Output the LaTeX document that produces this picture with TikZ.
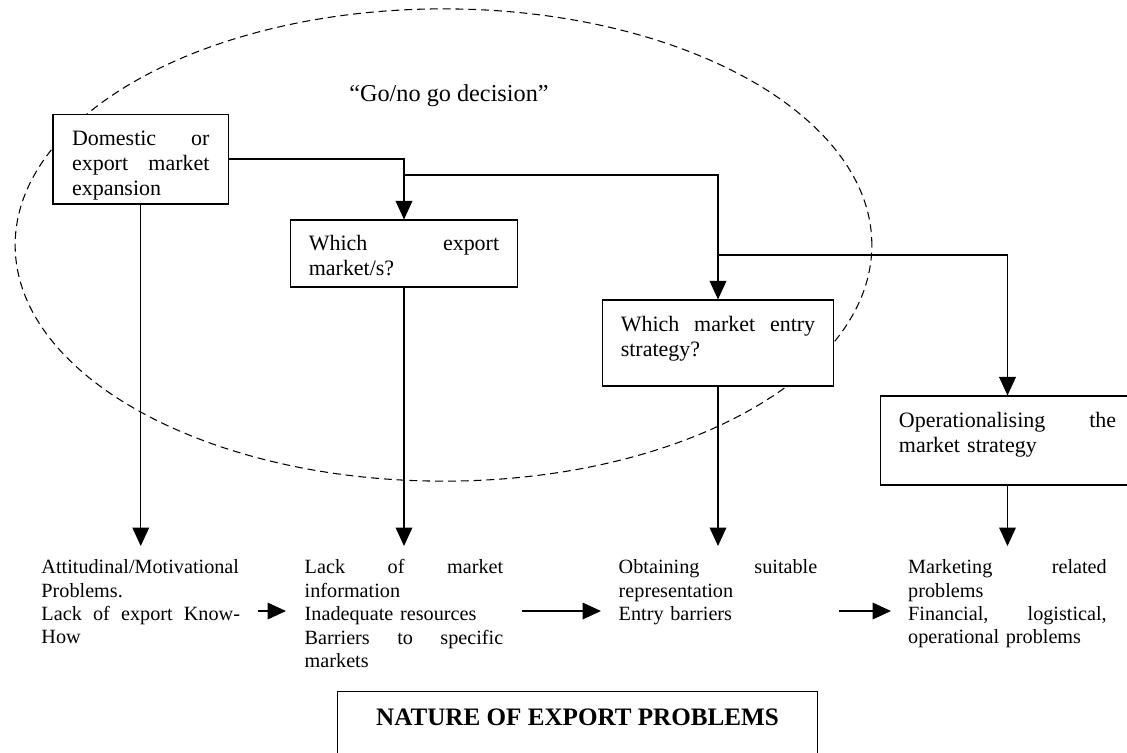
\documentclass[tikz,border=0pt]{standalone}
\usepackage{fontspec}
\setmainfont{Liberation Serif}
\usetikzlibrary{arrows.meta}

\tikzset{
  stage/.style={draw, line width=0.8pt, fill=white, align=left, inner ysep=0pt,
    font=\fontsize{12.5}{14.2}\selectfont},
  problem/.style={anchor=north, align=left, inner xsep=0pt, inner ysep=7.6pt,
    text width=113pt, font=\fontsize{11.5}{13.3}\selectfont},
  flow/.style={line width=0.7pt, -{Triangle[length=10.5pt, width=9.5pt]}},
}

\begin{document}
\begin{tikzpicture}[x=0.02cm, y=-0.02cm]
        \useasboundingbox (0,0) rectangle (1127,752);

        % Decision area
        \draw[dashed, dash pattern=on 4.5pt off 2.8pt, line width=0.6pt]
            (443.5,245) ellipse [x radius=243.8pt, y radius=134.4pt];
        \node[font=\fontsize{13.8}{16}\selectfont] (gonogo) at (449,96) {“Go/no go decision”};

        % Stages
        \node[stage, text width=78.2pt, inner xsep=10.9pt, minimum width=100.1pt, minimum height=51pt, text depth=24.1pt]
            (expand) at (140.75,159) {Domestic\hfill or\\ export\hfill market\\ expansion};
        \node[stage, text width=108.3pt, inner xsep=10.5pt, minimum width=129.3pt, minimum height=38pt, text depth=12.2pt]
            (market) at (404,253.5) {Which\hfill export\\ market/s?};
        \node[stage, text width=110.6pt, inner xsep=10.5pt, minimum width=131.5pt, minimum height=48.8pt, text depth=21.9pt]
            (entry) at (718,343) {Which\hfill market\hfill entry\\ strategy?};
        \node[stage, text width=123.6pt, inner xsep=10.5pt, minimum width=144.6pt, minimum height=50.5pt, text depth=23.6pt]
            (operate) at (1007.5,440.5) {Operationalising\hfill the\\ market strategy};

        % Problems
        \node[problem] (attitude) at (140.75,546) {Attitudinal/Motivational\\ Problems.\\ Lack\hfill of\hfill export\hfill Know-\\ How};
        \node[problem] (info) at (404,546) {Lack\hfill of\hfill market\\ information\\ Inadequate resources\\ Barriers\hfill to\hfill specific\\ markets};
        \node[problem] (represent) at (718,546) {Obtaining\hfill suitable\\ representation\\ Entry barriers};
        \node[problem] (logistic) at (1007.5,546) {Marketing\hfill related\\ problems\\ Financial,\hfill logistical,\\ operational problems};

        \node[draw, line width=0.8pt, anchor=north, minimum width=273.3pt, text height=9.5pt, text depth=40pt,
            inner ysep=9.8pt, font=\bfseries\fontsize{14.3}{16}\selectfont] (nature) at (577.5,691) {NATURE OF EXPORT PROBLEMS};

        % Coordinates
        \coordinate (split1) at (404,175);
        \coordinate (split2) at (718,255);
        \coordinate (A1) at (258,611);
        \coordinate (B1) at (286,611);
        \coordinate (A2) at (522,611);
        \coordinate (B2) at (601,611);
        \coordinate (A3) at (839,611);
        \coordinate (B3) at (891,611);

        % Arrows
        \draw[flow] (expand.east) -| (market.north);
        \draw[flow] (split1) -| (entry.north);
        \draw[flow] (split2) -| (operate.north);
        \draw[flow] (expand.south) -- (attitude.north);
        \draw[flow] (market.south) -- (info.north);
        \draw[flow] (entry.south) -- (represent.north);
        \draw[flow] (operate.south) -- (logistic.north);
        \draw[flow] (A1) -- (B1);
        \draw[flow] (A2) -- (B2);
        \draw[flow] (A3) -- (B3);
\end{tikzpicture}
\end{document}
